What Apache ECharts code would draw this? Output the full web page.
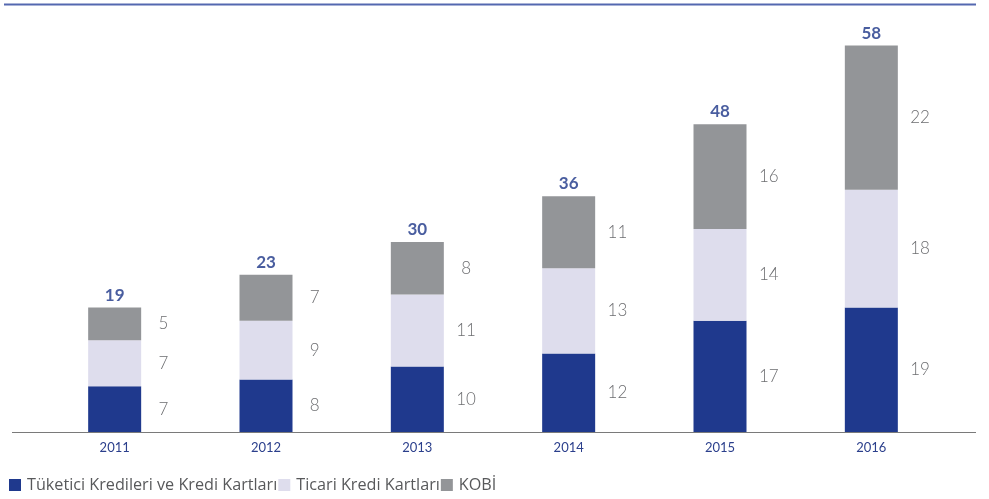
<!DOCTYPE html>
<html><head><meta charset="utf-8">
<script src="https://cdn.jsdelivr.net/npm/echarts@6/dist/echarts.min.js"></script>
<style>html,body{margin:0;padding:0;background:#fff}#c{width:989px;height:499px}</style>
</head><body><div id="c"></div>
<script>
const categories = ['2011','2012','2013','2014','2015','2016'];
const tuketici = [7, 8, 10, 12, 17, 19];
const ticari = [7, 9, 11, 13, 14, 18];
const kobi = [5, 7, 8, 11, 16, 22];
const totals = [19, 23, 30, 36, 48, 58];
const seriesNames = ['Tüketici Kredileri ve Kredi Kartları', 'Ticari Kredi Kartları', 'KOBİ'];

const FONT = 'Lato, "Open Sans", sans-serif';
const segLabel = {
  show: true, position: ['142%', '50%'], align: 'center', verticalAlign: 'middle',
  color: '#6d6e71', fontSize: 17, fontWeight: 300, fontFamily: FONT
};
const stackTops = categories.map((c, i) => tuketici[i] + ticari[i] + kobi[i]);

const chart = echarts.init(document.getElementById('c'));
chart.setOption({
  animation: false,
  textStyle: { fontFamily: FONT },
  grid: { left: 39, right: 42, top: 39, bottom: 67 },
  legend: {
    left: 4, top: 472, itemWidth: 12, itemHeight: 12, itemGap: 1,
    icon: 'rect',
    textStyle: { color: '#58595b', fontSize: 16.2, fontFamily: '"Open Sans", sans-serif', padding: [0, 0, 0, 1] },
    data: seriesNames
  },
  xAxis: {
    type: 'category', data: categories,
    axisLine: { show: false }, axisTick: { show: false },
    axisLabel: { color: '#2b3f8c', fontSize: 13, margin: 9, fontFamily: FONT }
  },
  yAxis: { type: 'value', min: 0, max: 60, show: false, splitLine: { show: false } },
  series: [
    { name: seriesNames[0], type: 'bar', stack: 's', barWidth: 53, data: tuketici,
      itemStyle: { color: '#1f398d' }, label: segLabel },
    { name: seriesNames[1], type: 'bar', stack: 's', data: ticari,
      itemStyle: { color: '#dedded' }, label: segLabel },
    { name: seriesNames[2], type: 'bar', stack: 's', data: kobi,
      itemStyle: { color: '#939598' }, label: segLabel },
    { name: 'total', type: 'scatter', symbolSize: 0, data: stackTops,
      label: { show: true, position: 'top', distance: 4,
        formatter: p => totals[p.dataIndex],
        color: '#1c3487', fontSize: 17, fontWeight: 'bold', fontFamily: FONT },
      silent: true, tooltip: { show: false } }
  ],
  graphic: [
    { type: 'line', shape: { x1: 4, y1: 4.5, x2: 976, y2: 4.5 },
      style: { stroke: '#5468b0', lineWidth: 2 } },
    { type: 'line', shape: { x1: 12, y1: 432.5, x2: 976, y2: 432.5 },
      style: { stroke: '#7a7a7a', lineWidth: 1 } }
  ]
});
</script></body></html>
